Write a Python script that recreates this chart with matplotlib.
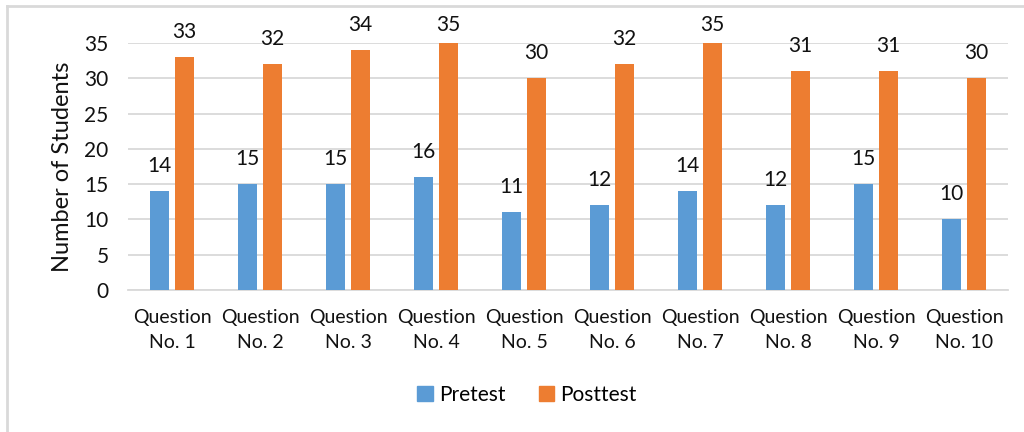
import numpy as np
import matplotlib
matplotlib.use("Agg")
import matplotlib.pyplot as plt
from matplotlib.patches import Patch

plt.rcParams["font.family"] = ["Lato", "DejaVu Sans"]

categories = ["Question\nNo. %d" % i for i in range(1, 11)]
pretest = [14, 15, 15, 16, 11, 12, 14, 12, 15, 10]
posttest = [33, 32, 34, 35, 30, 32, 35, 31, 31, 30]

blue = "#5B9BD5"
orange = "#ED7D31"
grid_c = "#D9D9D9"
txt = "#111111"

fig = plt.figure(figsize=(10.24, 4.32), dpi=100)
ax = fig.add_axes([128/1024, 1 - 290/432, 880/1024, 247/432])

# chart frame (only left and top edges are visible)
fig.add_artist(plt.Line2D([7/1024, 7/1024], [0, 1 - 6/432], color=grid_c, lw=2))
fig.add_artist(plt.Line2D([7/1024, 1], [1 - 6/432, 1 - 6/432], color=grid_c, lw=2))

x = np.arange(len(categories))
w = 0.22
off = 0.145
b1 = ax.bar(x - off, pretest, w, color=blue, zorder=3)
b2 = ax.bar(x + off, posttest, w, color=orange, zorder=3)

# value labels sit above the bars, but never higher than the top of the chart area
label_gap = 3.55
label_cap = 37.5
for bars, vals in [(b1, pretest), (b2, posttest)]:
    for r, v in zip(bars, vals):
        ax.text(r.get_x() + r.get_width()/2, min(v + label_gap, label_cap), str(v),
                ha="center", va="center", fontsize=15, color=txt, clip_on=False)

ax.set_xlim(-0.5, len(categories) - 0.5)
ax.set_ylim(0, 35)
ax.set_yticks(range(0, 36, 5))
ax.yaxis.grid(True, color=grid_c, lw=1.3)
ax.set_axisbelow(True)
for s in ["top", "right", "left"]:
    ax.spines[s].set_visible(False)
ax.spines["bottom"].set_color(grid_c)
ax.spines["bottom"].set_linewidth(1.3)
ax.tick_params(axis="both", length=0, colors=txt)
ax.tick_params(axis="y", pad=14, labelsize=15)
ax.tick_params(axis="x", pad=14, labelsize=14)
ax.set_xticks(x)
ax.set_xticklabels(categories, linespacing=1.55)
ax.set_ylabel("Number of Students", fontsize=17, color=txt, labelpad=8)

handles = [Patch(color=blue, label="Pretest"), Patch(color=orange, label="Posttest")]
fig.legend(handles=handles, loc="center", bbox_to_anchor=(527/1024, 1 - 395/432),
           ncol=2, frameon=False, fontsize=15, handlelength=0.75, handleheight=0.75,
           columnspacing=1.6, handletextpad=0.3)

fig.savefig("out.png", dpi=100)
